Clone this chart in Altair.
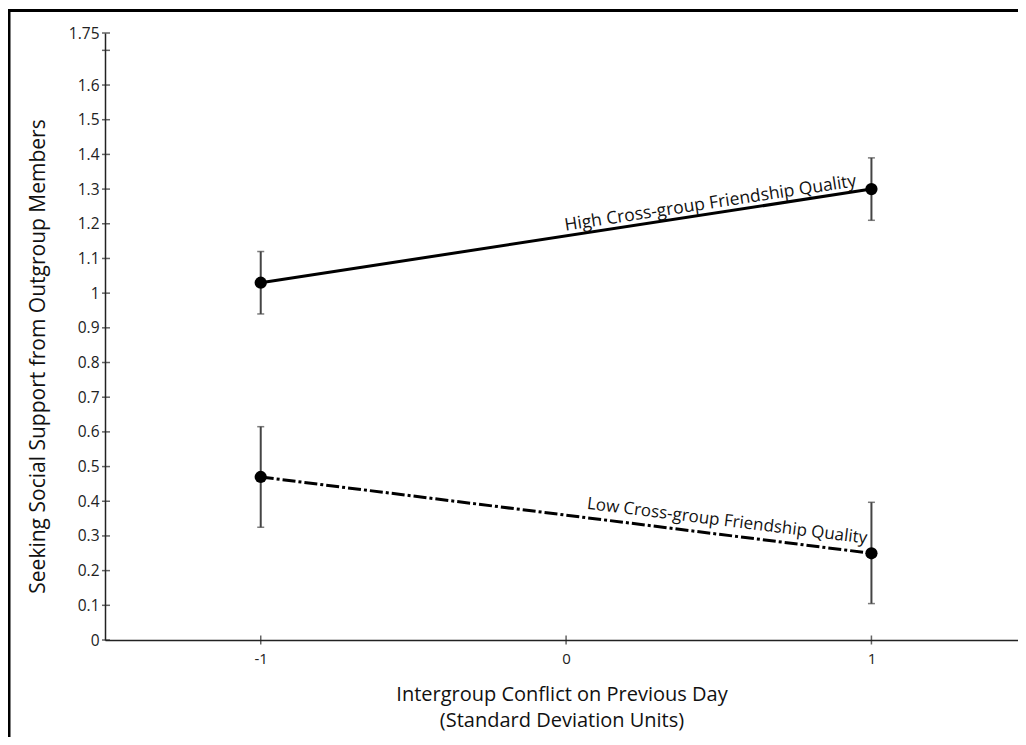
import altair as alt
import pandas as pd

# ---- data ----
x_vals = [-1, 1]
groups = ["High Cross-group Friendship Quality", "Low Cross-group Friendship Quality"]
high_mean = [1.03, 1.30]
high_lo = [0.94, 1.21]
high_hi = [1.12, 1.39]
low_mean = [0.47, 0.25]
low_lo = [0.325, 0.105]
low_hi = [0.615, 0.397]

y_ticks = [0, 0.1, 0.2, 0.3, 0.4, 0.5, 0.6, 0.7, 0.8, 0.9, 1, 1.1, 1.2, 1.3, 1.4, 1.5, 1.6, 1.7, 1.75]
x_ticks = [-1, 0, 1]

# label anchor points (data space, on each line near its right end)
label_x = [0.955, 0.98]
label_y = [1.294, 0.252]

rows = []
for i, x in enumerate(x_vals):
    rows.append({"x": x, "group": groups[0], "mean": high_mean[i], "lo": high_lo[i], "hi": high_hi[i]})
    rows.append({"x": x, "group": groups[1], "mean": low_mean[i], "lo": low_lo[i], "hi": low_hi[i]})
df = pd.DataFrame(rows)
high_df = df[df.group == groups[0]]
low_df = df[df.group == groups[1]]

lab_df = pd.DataFrame({"x": label_x, "y": label_y, "text": groups})
ytick_df = pd.DataFrame({"t": y_ticks})
xtick_df = pd.DataFrame({"t": x_ticks})

FONT = "Open Sans"
xscale = alt.Scale(domain=[-1.51, 1.48], nice=False, zero=False)
yscale = alt.Scale(domain=[0, 1.75], nice=False, zero=True)

x_axis = alt.Axis(
    values=x_ticks, labelExpr="datum.value < 0 ? '-' + format(-datum.value, 'd') : format(datum.value, 'd')",
    title=["Intergroup Conflict on Previous Day", "(Standard Deviation Units)"],
    titleFont=FONT, titleFontSize=20, titleFontWeight="normal", titleColor="#111",
    titleLineHeight=26, titlePadding=18,
    labelFont=FONT, labelFontSize=15, labelColor="#222", labelPadding=11,
    labelOverlap=False, ticks=False,
    domainColor="#222", domainWidth=1.5,
    grid=False)
y_axis = alt.Axis(
    values=y_ticks,
    labelExpr="datum.value == 1.7 ? '' : format(datum.value, '.2~f')",
    labelOverlap=False,
    title="Seeking Social Support from Outgroup Members",
    titleFont=FONT, titleFontSize=21, titleFontWeight="normal", titleColor="#111",
    titleX=-67, titleY=323, titleAngle=270, titleAlign="center", titleBaseline="middle",
    labelFont=FONT, labelFontSize=15.5, labelColor="#222", labelPadding=6,
    ticks=False,
    domainColor="#222", domainWidth=1.5,
    grid=False)

xq = alt.X("x:Q", scale=xscale, axis=x_axis)
def yq(field):
    return alt.Y(field, scale=yscale, axis=y_axis)

line_high = alt.Chart(high_df).mark_line(color="black", strokeWidth=3).encode(x=xq, y=yq("mean:Q"))
line_low = alt.Chart(low_df).mark_line(color="black", strokeWidth=3, strokeDash=[13, 3, 3, 3]).encode(
    x=xq, y=yq("mean:Q"))

err = alt.Chart(df).mark_rule(color="#444", strokeWidth=2).encode(x=xq, y=yq("lo:Q"), y2="hi:Q")
cap_lo = alt.Chart(df).mark_tick(color="#444", thickness=1.5, size=7, orient="horizontal").encode(
    x=xq, y=yq("lo:Q"))
cap_hi = alt.Chart(df).mark_tick(color="#444", thickness=1.5, size=7, orient="horizontal").encode(
    x=xq, y=yq("hi:Q"))

pts = alt.Chart(df).mark_circle(color="black", size=150, opacity=1).encode(x=xq, y=yq("mean:Q"))

lab_high = alt.Chart(lab_df.iloc[[0]]).mark_text(
    font=FONT, fontSize=17.5, color="#111", align="right", baseline="alphabetic",
    angle=351.3, dy=-5).encode(x=xq, y=yq("y:Q"), text="text:N")
lab_low = alt.Chart(lab_df.iloc[[1]]).mark_text(
    font=FONT, fontSize=17, color="#111", align="right", baseline="alphabetic",
    angle=7.1, dy=-9).encode(x=xq, y=yq("y:Q"), text="text:N")

# axis ticks that cross the axis line
ytick_marks = alt.Chart(ytick_df).mark_tick(color="#222", thickness=1.5, size=8, orient="horizontal").encode(
    x=alt.value(1), y=alt.Y("t:Q", scale=yscale, axis=y_axis))
xtick_marks = alt.Chart(xtick_df).mark_tick(color="#222", thickness=1.5, size=9, orient="vertical").encode(
    x=alt.X("t:Q", scale=xscale, axis=x_axis), y=alt.value(607))

one = pd.DataFrame({"k": [0]})
frame_top = alt.Chart(one).mark_rule(color="black", strokeWidth=3).encode(
    x=alt.value(-97.5), x2=alt.value(1100), y=alt.value(-22.5))
frame_left = alt.Chart(one).mark_rule(color="black", strokeWidth=3).encode(
    x=alt.value(-96), y=alt.value(-24), y2=alt.value(900))

chart = alt.layer(line_high, line_low, err, cap_lo, cap_hi, pts, lab_high, lab_low,
                  ytick_marks, xtick_marks, frame_top, frame_left).properties(
    width=913, height=607,
    autosize=alt.AutoSizeParams(type="none"),
    padding={"left": 97, "top": 25, "right": 0, "bottom": 97},
).configure(background="white", view=alt.ViewConfig(strokeWidth=0))

chart.save("out.html", embed_options={"renderer": "svg", "actions": False})
